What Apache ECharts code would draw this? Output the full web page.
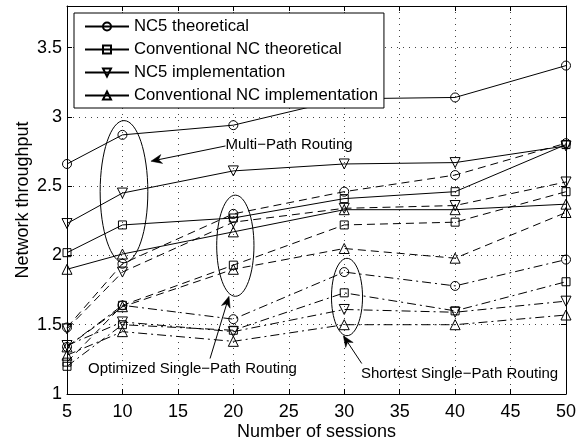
<!DOCTYPE html>
<html><head><meta charset="utf-8">
<script src="https://cdn.jsdelivr.net/npm/echarts@6/dist/echarts.min.js"></script>
<style>html,body{margin:0;padding:0;background:#fff}#c{width:585px;height:446px}</style>
</head><body><div id="c"></div>
<script>
// ---- data ----
const sessions = [5, 10, 20, 30, 40, 50];
// Multi-path routing (solid)
const multiNc5Theo  = [2.66, 2.87, 2.94, 3.13, 3.14, 3.37];
const multiConvTheo = [2.02, 2.22, 2.27, 2.41, 2.46, 2.80];
const multiNc5Impl  = [2.23, 2.45, 2.61, 2.66, 2.67, 2.79];
const multiConvImpl = [1.90, 2.01, 2.17, 2.33, 2.33, 2.37];
// Optimized single-path routing (dashed)
const optNc5Theo  = [1.48, 1.94, 2.30, 2.46, 2.58, 2.81];
const optConvTheo = [1.23, 1.64, 1.93, 2.22, 2.24, 2.46];
const optNc5Impl  = [1.47, 1.88, 2.24, 2.34, 2.36, 2.53];
const optConvImpl = [1.34, 1.63, 1.90, 2.05, 1.98, 2.31];
// Shortest single-path routing (dash-dot)
const shortNc5Theo  = [1.34, 1.64, 1.54, 1.88, 1.78, 1.97];
const shortConvTheo = [1.20, 1.50, 1.46, 1.73, 1.60, 1.81];
const shortNc5Impl  = [1.35, 1.52, 1.45, 1.61, 1.59, 1.67];
const shortConvImpl = [1.28, 1.45, 1.38, 1.50, 1.50, 1.57];

const legendNames = ['NC5 theoretical', 'Conventional NC theoretical', 'NC5 implementation', 'Conventional NC implementation'];
const xTicks = [5, 10, 15, 20, 25, 30, 35, 40, 45, 50];
const yTicks = [1, 1.5, 2, 2.5, 3, 3.5];

// annotations in data coordinates
const ellipses = [
  {cx: 10.14, cy: 2.46, rx: 2.15, ry: 0.513},
  {cx: 20.18, cy: 2.07, rx: 1.68, ry: 0.365},
  {cx: 30.25, cy: 1.70, rx: 1.40, ry: 0.279}
];
const arrows = [
  {from: [19.29, 2.79], to: [12.57, 2.68]},
  {from: [17.9, 1.256], to: [19.61, 1.705]},
  {from: [31.58, 1.22], to: [29.92, 1.42]}
];
const labels = [
  {text: 'Multi\u2212Path Routing', at: [19.29, 2.80]},
  {text: 'Optimized Single\u2212Path Routing', at: [6.89, 1.183]},
  {text: 'Shortest Single\u2212Path Routing', at: [31.51, 1.142]}
];

const FONT = 'Liberation Sans, Arial, Helvetica, sans-serif';
const marks = [
  {symbol: 'circle', size: 9, rotate: 0},
  {symbol: 'rect', size: 8, rotate: 0},
  {symbol: 'triangle', size: 10, rotate: 180},
  {symbol: 'triangle', size: 10, rotate: 0}
];
const groups = [
  {prefix: '', type: 'solid', vals: [multiNc5Theo, multiConvTheo, multiNc5Impl, multiConvImpl]},
  {prefix: 'Optimized ', type: [8, 5], vals: [optNc5Theo, optConvTheo, optNc5Impl, optConvImpl]},
  {prefix: 'Shortest ', type: [9, 4, 2, 4], vals: [shortNc5Theo, shortConvTheo, shortNc5Impl, shortConvImpl]}
];
const series = [];
groups.forEach(g => {
  g.vals.forEach((v, i) => {
    series.push({
      type: 'line',
      name: g.prefix + legendNames[i],
      data: sessions.map((s, k) => [s, v[k]]),
      symbol: marks[i].symbol,
      symbolSize: marks[i].size,
      symbolRotate: marks[i].rotate,
      showAllSymbol: true,
      xAxisIndex: 0, yAxisIndex: 0,
      lineStyle: {color: '#000', width: 1, type: g.type},
      itemStyle: {color: 'rgba(0,0,0,0)', borderColor: '#000', borderWidth: 1},
      emphasis: {disabled: true},
      animation: false
    });
  });
});

const chart = echarts.init(document.getElementById('c'), null, {renderer: 'canvas'});
const dotted = {color: '#444', width: 1, type: [1, 5]};
const yFmt = v => (yTicks.some(t => Math.abs(t - v) < 1e-6) ? String(v) : '');
chart.setOption({
  animation: false,
  backgroundColor: '#fff',
  grid: {left: 67, right: 19, top: 6, bottom: 47},
  legend: {
    data: legendNames,
    orient: 'vertical', left: 74, top: 13,
    backgroundColor: '#fff', borderColor: '#000', borderWidth: 1,
    padding: [5, 6, 4, 10], itemGap: 6, itemWidth: 44, itemHeight: 10,
    textStyle: {fontSize: 16.7, color: '#000', fontFamily: FONT},
    selectedMode: false
  },
  xAxis: [{
    type: 'value', min: 5, max: 50, interval: 5, position: 'bottom',
    name: 'Number of sessions', nameLocation: 'middle', nameGap: 29, nameMoveOverlap: false,
    nameTextStyle: {fontSize: 18, color: '#000', fontFamily: FONT},
    axisLine: {lineStyle: {color: '#000', width: 1}},
    axisTick: {inside: true, length: 5, lineStyle: {color: '#000'}},
    axisLabel: {fontSize: 18, color: '#000', fontFamily: FONT, margin: 9},
    splitLine: {show: true, lineStyle: dotted}
  }, {
    type: 'value', min: 5, max: 50, interval: 5, position: 'top',
    axisLine: {lineStyle: {color: '#000', width: 1}},
    axisTick: {inside: true, length: 5, lineStyle: {color: '#000'}},
    axisLabel: {show: false}, splitLine: {show: false}
  }],
  yAxis: [{
    type: 'value', min: 1, max: 3.8, interval: 0.5, position: 'left',
    name: 'Network throughput', nameLocation: 'middle', nameGap: 35, nameMoveOverlap: false,
    nameTextStyle: {fontSize: 18, color: '#000', fontFamily: FONT},
    axisLine: {show: true, lineStyle: {color: '#000', width: 1}},
    axisTick: {show: true, inside: true, length: 5, lineStyle: {color: '#000'}},
    axisLabel: {fontSize: 18, color: '#000', fontFamily: FONT, margin: 5, formatter: yFmt},
    splitLine: {show: true, lineStyle: dotted}
  }, {
    type: 'value', min: 1, max: 3.8, interval: 0.5, position: 'right',
    axisLine: {show: true, lineStyle: {color: '#000', width: 1}},
    axisTick: {show: true, inside: true, length: 5, lineStyle: {color: '#000'}},
    axisLabel: {show: false}, splitLine: {show: false}
  }],
  series: series
});

// annotations
const px = p => chart.convertToPixel({xAxisIndex: 0, yAxisIndex: 0}, p);
const graphics = [];
ellipses.forEach(e => {
  const c = px([e.cx, e.cy]);
  const r = px([e.cx + e.rx, e.cy + e.ry]);
  graphics.push({type: 'ellipse', z: 100, silent: true,
    shape: {cx: c[0], cy: c[1], rx: Math.abs(r[0] - c[0]), ry: Math.abs(r[1] - c[1])},
    style: {fill: null, stroke: '#000', lineWidth: 1}});
});
arrows.forEach(a => {
  const s = px(a.from), t = px(a.to);
  const dx = t[0] - s[0], dy = t[1] - s[1];
  const L = Math.hypot(dx, dy), ux = dx / L, uy = dy / L;
  const nx = -uy, ny = ux;
  const hl = 11, hw = 4.5;
  const b = [t[0] - ux * hl, t[1] - uy * hl];
  const notch = [t[0] - ux * hl * 0.7, t[1] - uy * hl * 0.7];
  graphics.push({type: 'line', z: 100, silent: true,
    shape: {x1: s[0], y1: s[1], x2: notch[0], y2: notch[1]},
    style: {stroke: '#000', lineWidth: 1}});
  graphics.push({type: 'polygon', z: 100, silent: true,
    shape: {points: [t, [b[0] + nx * hw, b[1] + ny * hw], notch, [b[0] - nx * hw, b[1] - ny * hw]]},
    style: {fill: '#000', stroke: '#000', lineWidth: 0.5}});
});
labels.forEach(l => {
  const p = px(l.at);
  graphics.push({type: 'text', z: 101, silent: true, x: p[0], y: p[1],
    style: {text: l.text, fill: '#000', font: '15px ' + FONT,
      align: 'left', verticalAlign: 'middle', textAlign: 'left', textVerticalAlign: 'middle'}});
});
chart.setOption({graphic: graphics});
</script></body></html>
